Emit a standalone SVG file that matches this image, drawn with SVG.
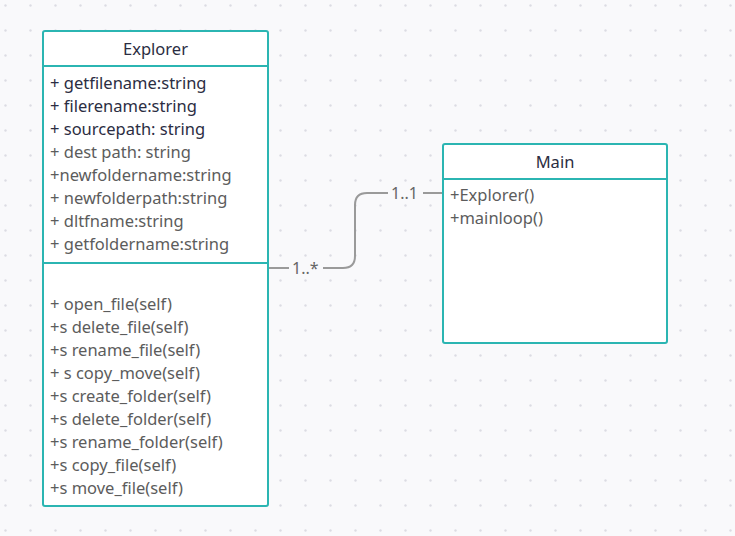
<svg xmlns="http://www.w3.org/2000/svg" width="735" height="536" viewBox="0 0 735 536">
<defs>
<pattern id="dots" x="0" y="0" width="25" height="25" patternUnits="userSpaceOnUse">
<circle cx="5.5" cy="5.5" r="1.2" fill="#dcdce3"/>
</pattern>
<style>
.box{fill:#ffffff;stroke:#2bb5b2;stroke-width:2}
.sep{stroke:#2bb5b2;stroke-width:2}
text{font-family:"Noto Sans","Open Sans",sans-serif;font-size:16.5px}
.title{fill:#2b2d42;text-anchor:middle}
.dark{fill:#2b2d42}
.gray{fill:#5c5c5c}
.conn{fill:none;stroke:#9a9a9a;stroke-width:2}
.lbl{fill:#666666;font-size:16px}
</style>
</defs>
<rect width="735" height="536" fill="#f9f9fb"/>
<rect width="735" height="536" fill="url(#dots)"/>
<g id="connectors">
<path class="conn" d="M268,268 H289"/>
<path class="conn" d="M323,268 H343 Q355,268 355,256 V205 Q355,193 367,193 H388"/>
<path class="conn" d="M423,193 H443"/>
<text class="lbl" x="292" y="274">1..*</text>
<text class="lbl" x="391" y="199">1..1</text>
</g>
<g id="explorer">
<rect class="box" x="43" y="31" width="225" height="475" rx="2"/>
<line class="sep" x1="43" y1="66" x2="268" y2="66"/>
<line class="sep" x1="43" y1="263" x2="268" y2="263"/>
<text class="title" x="155.5" y="55">Explorer</text>
<text class="dark" x="50" y="89">+ getfilename:string</text>
<text class="dark" x="50" y="112">+ filerename:string</text>
<text class="dark" x="50" y="135">+ sourcepath: string</text>
<text class="gray" x="50" y="158">+ dest path: string</text>
<text class="gray" x="50" y="181">+newfoldername:string</text>
<text class="gray" x="50" y="204">+ newfolderpath:string</text>
<text class="gray" x="50" y="227">+ dltfname:string</text>
<text class="gray" x="50" y="250">+ getfoldername:string</text>
<text class="gray" x="50" y="310">+ open_file(self)</text>
<text class="gray" x="50" y="333">+s delete_file(self)</text>
<text class="gray" x="50" y="356">+s rename_file(self)</text>
<text class="gray" x="50" y="379">+ s copy_move(self)</text>
<text class="gray" x="50" y="402">+s create_folder(self)</text>
<text class="gray" x="50" y="425">+s delete_folder(self)</text>
<text class="gray" x="50" y="448">+s rename_folder(self)</text>
<text class="gray" x="50" y="471">+s copy_file(self)</text>
<text class="gray" x="50" y="494">+s move_file(self)</text>
</g>
<g id="main">
<rect class="box" x="443" y="144" width="224" height="199" rx="2"/>
<line class="sep" x1="443" y1="179" x2="667" y2="179"/>
<text class="title" x="555" y="168">Main</text>
<text class="gray" x="450" y="201">+Explorer()</text>
<text class="gray" x="450" y="224">+mainloop()</text>
</g>
</svg>
